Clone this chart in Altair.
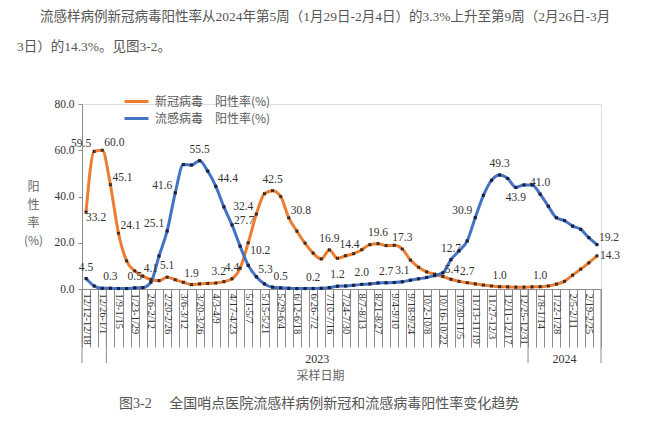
import json
import altair as alt
import pandas as pd

# ---------------- data ----------------
weeks = [
    "12/12-12/18", "12/19-12/25", "12/26-1/1", "1/2-1/8", "1/9-1/15", "1/16-1/22",
    "1/23-1/29", "1/30-2/5", "2/6-2/12", "2/13-2/19", "2/20-2/26", "2/27-3/5",
    "3/6-3/12", "3/13-3/19", "3/20-3/26", "3/27-4/2", "4/3-4/9", "4/10-4/16",
    "4/17-4/23", "4/24-4/30", "5/1-5/7", "5/8-5/14", "5/15-5/21", "5/22-5/28",
    "5/29-6/4", "6/5-6/11", "6/12-6/18", "6/19-6/25", "6/26-7/2", "7/3-7/9",
    "7/10-7/16", "7/17-7/23", "7/24-7/30", "7/31-8/6", "8/7-8/13", "8/14-8/20",
    "8/21-8/27", "8/28-9/3", "9/4-9/10", "9/11-9/17", "9/18-9/24", "9/25-10/1",
    "10/2-10/8", "10/9-10/15", "10/16-10/22", "10/23-10/29", "10/30-11/5", "11/6-11/12",
    "11/13-11/19", "11/20-11/26", "11/27-12/3", "12/4-12/10", "12/11-12/17", "12/18-12/24",
    "12/25-12/31", "1/1-1/7", "1/8-1/14", "1/15-1/21", "1/22-1/28", "1/29-2/4",
    "2/5-2/11", "2/12-2/18", "2/19-2/25", "2/26-3/3",
]
shown_tick_labels = weeks[0::2]

covid = [
    33.2, 59.5, 60.0, 45.1, 24.1, 12.2, 7.8, 5.6, 4.1, 3.6,
    5.1, 4.0, 2.9, 1.9, 2.2, 2.4, 2.6, 3.2, 4.4, 9.0,
    20.0, 32.4, 41.2, 42.5, 40.0, 30.8, 25.0, 19.8, 15.5, 13.0,
    16.9, 13.3, 14.4, 15.3, 17.0, 19.2, 19.6, 18.8, 18.9, 17.3,
    12.5, 9.4, 7.4, 6.4, 5.4, 4.2, 3.3, 2.7, 2.2, 1.7,
    1.3, 1.0, 0.9, 0.8, 0.8, 0.9, 1.0, 1.3, 2.1, 3.3,
    6.0, 8.6, 11.3, 14.3,
]
flu = [
    4.5, 1.3, 0.3, 0.3, 0.2, 0.2, 0.5, 0.6, 3.0, 14.3,
    25.1, 41.6, 53.8, 53.6, 55.5, 51.0, 44.4, 35.5, 27.7, 18.5,
    10.2, 5.3, 2.2, 0.8, 0.5, 0.3, 0.2, 0.2, 0.2, 0.3,
    0.6, 1.2, 1.3, 1.6, 2.0, 2.2, 2.6, 2.7, 2.8, 3.1,
    3.8, 4.4, 5.0, 5.8, 7.0, 12.7, 16.5, 20.8, 30.9, 40.5,
    47.0, 49.3, 47.8, 43.9, 45.0, 45.0, 41.0, 35.8, 30.8, 29.6,
    27.2, 25.8, 22.2, 19.2,
]

covid_label_idx = [0, 1, 2, 3, 4, 8, 10, 13, 17, 18, 21, 23, 25, 30, 32, 36, 39, 44, 47, 51, 56, 63]
covid_label_pos = ["belowright", "left", "aboveright", "aboveright", "aboveright", "above", "above",
                   "above", "aboveleft", "above", "left", "above", "aboveright", "above", "aboveshift",
                   "above", "above", "aboveright", "above", "above", "above", "right"]
flu_label_idx = [0, 3, 6, 10, 11, 14, 16, 18, 20, 21, 24, 28, 31, 34, 37, 39, 45, 48, 51, 53, 56, 63]
flu_label_pos = ["above", "above", "above", "left", "left", "above", "aboveright", "lowright",
                 "highright", "aboveright", "above", "above", "above", "above", "above", "above",
                 "above", "left", "above", "below", "above", "aboveright"]

series_names = ["新冠病毒　阳性率(%)", "流感病毒　阳性率(%)"]
series_colors = ["#ED7D31", "#4472C4"]
y_ticks = [0, 20, 40, 60, 80]

paragraph_line1 = "流感样病例新冠病毒阳性率从2024年第5周（1月29日-2月4日）的3.3%上升至第9周（2月26日-3月"
paragraph_line2 = "3日）的14.3%。见图3-2。"
caption = "图3-2　 全国哨点医院流感样病例新冠和流感病毒阳性率变化趋势"
x_title = "采样日期"
y_title = ["阳", "性", "率", "(%)"]

year_names = ["2023", "2024"]
year_center_week_edge = ["7/3-7/9"]      # centre of 2023 group lies at the start of this week
year_center_week_mid = ["1/29-2/4"]      # centre of 2024 group lies at the middle of this week
year_bounds_start = ["12/12-12/18", "1/2-1/8", "1/1-1/7"]
year_bounds_end = ["2/26-3/3"]

# ---------------- tables ----------------
rows = []
for name, vals, lidx, lpos in [
    (series_names[0], covid, covid_label_idx, covid_label_pos),
    (series_names[1], flu, flu_label_idx, flu_label_pos),
]:
    pos_map = dict(zip(lidx, lpos))
    for i, (w, v) in enumerate(zip(weeks, vals)):
        rows.append({
            "week": w, "value": v, "series": name,
            "label": f"{v:.1f}" if i in pos_map else "",
            "pos": pos_map.get(i, ""),
        })
df = pd.DataFrame(rows)

SERIF = "Liberation Serif, Noto Sans CJK SC"
CJK = "Noto Sans CJK SC"

x_axis = alt.Axis(
    title=x_title, titleFont=CJK, titleFontSize=12, titleColor="#666666", titleFontWeight="normal",
    titleX=238, titleY=81, titleBaseline="top", titleAnchor="start", titleAlign="center",
    labelAngle=90, labelAlign="left", labelBaseline="middle",
    labelExpr="indexof(" + json.dumps(shown_tick_labels) + ", datum.value) >= 0 ? datum.label : ''",
    labelFont=SERIF, labelFontSize=10.5, labelColor="#333333", labelPadding=-54,
    labelOverlap=False, labelBound=False, labelFlush=False,
    tickBand="extent", tickSize=58, tickColor="#8c8c8c", domainColor="#8c8c8c",
)
y_axis = alt.Axis(
    values=y_ticks, format=".1f", title=y_title, titleAngle=0, titleX=-49, titleY=77,
    titleAlign="center", titleBaseline="top", titleLineHeight=18, titleFont=CJK,
    titleFontSize=12, titleColor="#666666", titleFontWeight="normal",
    labelFont=SERIF, labelFontSize=11.5, labelColor="#333333", labelPadding=4,
    tickSize=4, tickColor="#8c8c8c", domainColor="#8c8c8c", grid=False,
)


def xenc(band=None):
    kw = {}
    if band is not None:
        kw["bandPosition"] = band
    return alt.X("week:N", sort=weeks,
                 scale=alt.Scale(domain=weeks, paddingInner=0, paddingOuter=0),
                 axis=x_axis, **kw)


yenc = alt.Y("value:Q", scale=alt.Scale(domain=[0, 80]), axis=y_axis)

base = alt.Chart(df)

lines = base.mark_line(interpolate="monotone", strokeWidth=3).encode(
    x=xenc(), y=yenc,
    color=alt.Color("series:N",
                    scale=alt.Scale(domain=series_names, range=series_colors),
                    legend=alt.Legend(orient="none", legendX=47, legendY=-10, title=None,
                                      symbolType="M-2,0H2", symbolStrokeWidth=3, symbolSize=144,
                                      labelFont=CJK, labelFontSize=12, labelColor="#595959",
                                      rowPadding=3, labelOffset=11)),
    detail="series:N",
)

pts_c = base.transform_filter(alt.datum.series == series_names[0]).mark_point(
    shape="cross", angle=45, filled=True, size=14, color="#3b2a20", opacity=1
).encode(x=xenc(), y=yenc)
pts_f = base.transform_filter(alt.datum.series == series_names[1]).mark_point(
    shape="square", filled=True, size=10, color="#1b2240", opacity=1
).encode(x=xenc(), y=yenc)

placements = {
    "above": dict(align="center", baseline="middle", dx=0, dy=-11),
    "aboveshift": dict(align="center", baseline="middle", dx=4, dy=-11),
    "aboveleft": dict(align="right", baseline="middle", dx=2, dy=-10),
    "below": dict(align="center", baseline="middle", dx=0, dy=11),
    "belowright": dict(align="left", baseline="middle", dx=0, dy=6),
    "left": dict(align="right", baseline="middle", dx=-3, dy=-7),
    "right": dict(align="left", baseline="middle", dx=3, dy=0),
    "lowright": dict(align="left", baseline="middle", dx=2, dy=-4),
    "aboveright": dict(align="left", baseline="middle", dx=2, dy=-7),
    "highright": dict(align="left", baseline="middle", dx=2, dy=-14),
}
label_layers = []
for p, kw in placements.items():
    label_layers.append(
        base.transform_filter(alt.datum.pos == p).mark_text(
            font=SERIF, fontSize=11.5, color="#333333", **kw
        ).encode(x=xenc(), y=yenc, text="label:N")
    )

rules_start = alt.Chart(pd.DataFrame({"week": year_bounds_start})).mark_rule(
    color="#8c8c8c", strokeWidth=1
).encode(x=xenc(0), y=alt.value(185), y2=alt.value(259))
rules_end = alt.Chart(pd.DataFrame({"week": year_bounds_end})).mark_rule(
    color="#8c8c8c", strokeWidth=1
).encode(x=xenc(1), y=alt.value(185), y2=alt.value(259))

year1 = alt.Chart(pd.DataFrame({"week": year_center_week_edge, "t": year_names[:1]})).mark_text(
    font=SERIF, fontSize=12, color="#333333", baseline="middle"
).encode(x=xenc(0), y=alt.value(255), text="t:N")
year2 = alt.Chart(pd.DataFrame({"week": year_center_week_mid, "t": year_names[1:]})).mark_text(
    font=SERIF, fontSize=12, color="#333333", baseline="middle"
).encode(x=xenc(0.5), y=alt.value(255), text="t:N")

para1 = alt.Chart(pd.DataFrame({"t": [paragraph_line1]})).mark_text(
    font=SERIF, fontSize=13.5, color="#555555", align="left", baseline="middle"
).encode(x=alt.value(-42), y=alt.value(-87), text="t:N")
para2 = alt.Chart(pd.DataFrame({"t": [paragraph_line2]})).mark_text(
    font=SERIF, fontSize=13.5, color="#555555", align="left", baseline="middle"
).encode(x=alt.value(-65), y=alt.value(-57), text="t:N")
cap = alt.Chart(pd.DataFrame({"t": [caption]})).mark_text(
    font=SERIF, fontSize=14, color="#555555", align="left", baseline="middle"
).encode(x=alt.value(37), y=alt.value(300), text="t:N")

chart = alt.layer(
    rules_start, rules_end, lines, pts_c, pts_f, *label_layers, year1, year2, para1, para2, cap
).properties(
    width=519, height=185,
    padding={"left": 74, "top": 96, "right": 30, "bottom": 125},
    autosize=alt.AutoSizeParams(type="none"),
).configure_view(stroke=None).configure(background="white")

chart.save("out.html", embed_options={"renderer": "svg", "actions": False})
